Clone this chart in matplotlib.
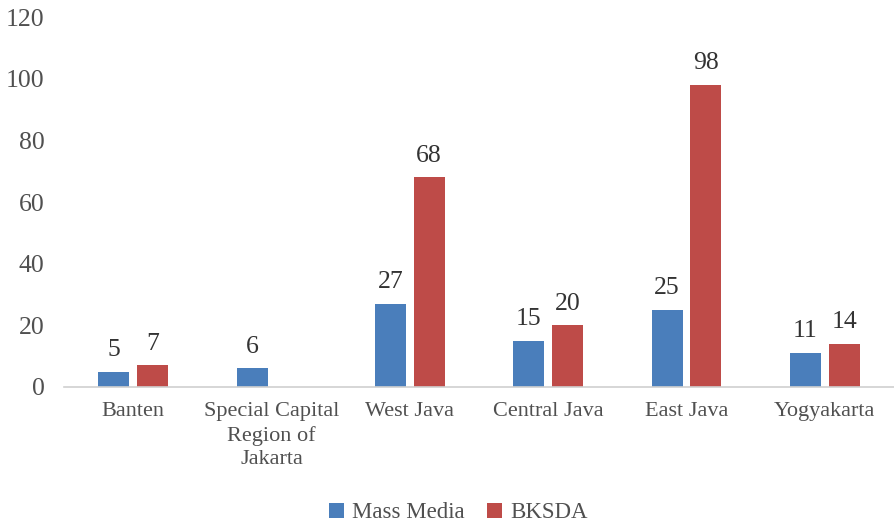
import matplotlib
matplotlib.use("Agg")
import numpy as np
from matplotlib import pyplot as plt

categories = ["Banten", "Special Capital\nRegion of\nJakarta", "West Java",
              "Central Java", "East Java", "Yogyakarta"]
mass_media = [5, 6, 27, 15, 25, 11]
bksda = [7, None, 68, 20, 98, 14]

blue = "#4a7ebb"
red = "#be4b48"

plt.rcParams['font.family'] = ['Liberation Serif', 'DejaVu Serif']

fig = plt.figure(figsize=(8.94, 5.24), dpi=100)
ax = fig.add_axes([0.0716, 0.2615, 0.9284, 0.706])

x = np.arange(len(categories))
w = 0.225
off = 0.14

mm_vals = [v if v is not None else 0 for v in mass_media]
bk_vals = [v if v is not None else 0 for v in bksda]

ax.bar(x - off, mm_vals, w, color=blue, label="Mass Media")
ax.bar(x + off, bk_vals, w, color=red, label="BKSDA")

# data labels
for i in range(len(categories)):
    if mass_media[i] is not None:
        ax.text(x[i] - off, mass_media[i] + 3.5, str(mass_media[i]), ha="center",
                va="bottom", fontsize=18.5, color="#333333")
    if bksda[i] is not None:
        ax.text(x[i] + off, bksda[i] + 3.5, str(bksda[i]), ha="center",
                va="bottom", fontsize=18.5, color="#333333")

ax.set_xlim(-0.5, len(categories) - 0.5)
ax.set_ylim(0, 120)
ax.set_yticks(range(0, 121, 20))
ax.set_xticks(x)
ax.set_xticklabels(categories, linespacing=1.3)
ax.tick_params(axis="both", length=0, labelcolor="#505050")
ax.tick_params(axis="y", pad=14, labelsize=18.5)
ax.tick_params(axis="x", pad=11, labelsize=16)

for s in ["top", "right", "left"]:
    ax.spines[s].set_visible(False)
ax.spines["bottom"].set_color("#d0d0d0")
ax.spines["bottom"].set_linewidth(1.2)

ax.legend(loc="center", bbox_to_anchor=(0.475, -0.34), ncol=2, frameon=False,
          fontsize=16.5, handlelength=0.65, handleheight=0.65, handletextpad=0.35,
          columnspacing=1.0, labelcolor="#505050")

fig.savefig("out.png", dpi=100)
